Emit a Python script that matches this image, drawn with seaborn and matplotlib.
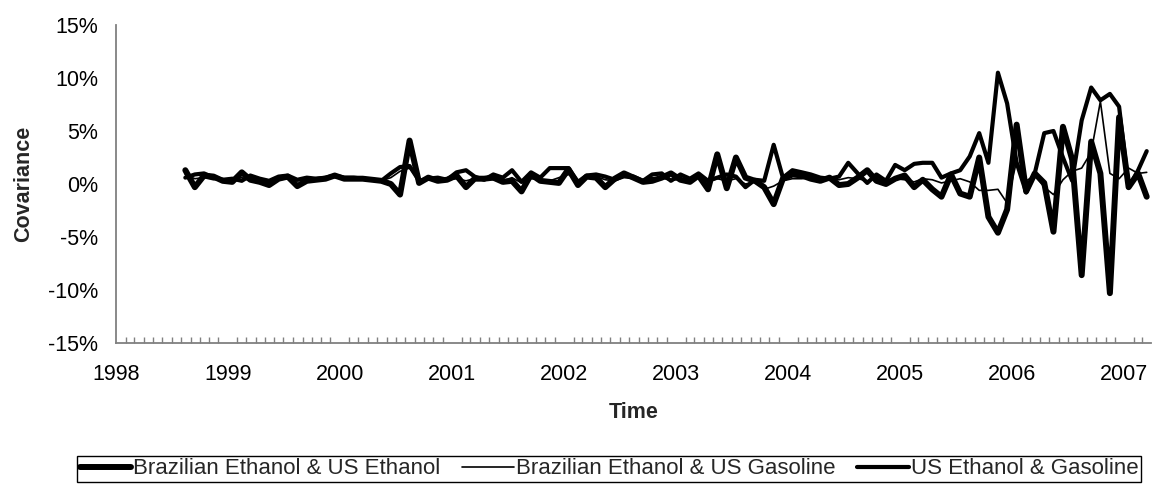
import pandas as pd
import matplotlib
matplotlib.use("Agg")
import matplotlib.pyplot as plt
import matplotlib.dates as mdates
from matplotlib.ticker import PercentFormatter, MultipleLocator
import seaborn as sns

# monthly observations, Aug 1998 - Mar 2007 (values in %)
months = pd.date_range("1998-08-01", "2007-03-01", freq="MS") + pd.Timedelta(days=14)

# Brazilian Ethanol & US Ethanol (thick line)
a_1998 = [1.3, -0.3, 0.8, 0.7, 0.3]
a_1999 = [0.2, 1.1, 0.4, 0.2, -0.1, 0.5, 0.7, -0.2, 0.3, 0.4, 0.5, 0.8]
a_2000 = [0.5, 0.5, 0.5, 0.4, 0.3, 0.0, -1.0, 4.1, 0.1, 0.6, 0.3, 0.4]
a_2001 = [0.8, -0.3, 0.5, 0.5, 0.6, 0.2, 0.3, -0.7, 0.9, 0.3, 0.2, 0.1]
a_2002 = [1.4, -0.1, 0.7, 0.6, -0.3, 0.5, 1.0, 0.6, 0.2, 0.3, 0.6, 1.0]
a_2003 = [0.4, 0.2, 0.8, -0.5, 2.8, -0.4, 2.5, 0.6, 0.3, -0.3, -1.9, 0.5]
a_2004 = [0.9, 0.8, 0.5, 0.3, 0.6, -0.1, 0.0, 0.6, 1.3, 0.3, 0.0, 0.5]
a_2005 = [0.8, -0.3, 0.4, -0.5, -1.2, 0.9, -0.9, -1.2, 2.5, -3.1, -4.6, -2.4]
a_2006 = [5.6, -0.7, 1.0, 0.1, -4.5, 5.4, 2.3, -8.6, 4.0, 1.0, -10.3, 6.3]
a_2007 = [-0.3, 1.0, -1.2]

# Brazilian Ethanol & US Gasoline (thin line)
b_1998 = [0.9, 0.5, 0.6, 0.4, 0.5]
b_1999 = [0.4, 0.6, 0.3, 0.3, 0.2, 0.4, 0.5, 0.3, 0.4, 0.5, 0.6, 0.6]
b_2000 = [0.5, 0.5, 0.4, 0.4, 0.3, 0.6, 1.2, 1.5, 0.3, 0.4, 0.5, 0.4]
b_2001 = [0.5, 0.3, 0.5, 0.6, 0.4, 0.3, 0.6, 0.1, 0.5, 0.4, 0.3, 0.6]
b_2002 = [0.9, 0.3, 0.6, 0.7, 0.4, 0.3, 0.6, 0.5, 0.4, 0.6, 0.6, 0.3]
b_2003 = [0.5, 0.4, 0.6, 0.2, 0.5, 0.3, 0.5, 0.0, 0.2, -0.5, -0.2, 0.3]
b_2004 = [0.5, 0.5, 0.6, 0.5, 0.4, 0.4, 0.6, 0.5, 0.3, 0.6, 0.4, 0.5]
b_2005 = [0.4, 0.2, 0.5, 0.4, 0.1, 0.3, 0.5, 0.2, -0.6, -0.6, -0.5, -1.8]
b_2006 = [2.2, 0.3, 0.8, -0.3, -1.0, 0.4, 1.2, 1.5, 3.0, 7.8, 1.0, 0.5]
b_2007 = [1.5, 1.0, 1.1]

# US Ethanol & Gasoline (medium line)
c_1998 = [0.6, 0.9, 1.0, 0.6, 0.4]
c_1999 = [0.5, 0.3, 0.8, 0.5, 0.3, 0.7, 0.8, 0.4, 0.6, 0.5, 0.6, 0.8]
c_2000 = [0.6, 0.6, 0.5, 0.4, 0.3, 1.0, 1.6, 1.7, 0.3, 0.5, 0.6, 0.4]
c_2001 = [1.1, 1.3, 0.7, 0.4, 0.9, 0.6, 1.3, 0.2, 1.1, 0.6, 1.5, 1.5]
c_2002 = [1.5, 0.2, 0.8, 0.9, 0.7, 0.4, 0.8, 0.7, 0.3, 0.9, 1.0, 0.3]
c_2003 = [0.9, 0.5, 1.0, 0.3, 0.6, 0.9, 0.7, -0.3, 0.4, 0.3, 3.7, 0.6]
c_2004 = [1.3, 1.1, 0.9, 0.6, 0.5, 0.7, 2.0, 1.0, 0.1, 0.9, 0.3, 1.8]
c_2005 = [1.3, 1.9, 2.0, 2.0, 0.6, 1.0, 1.3, 2.6, 4.8, 2.0, 10.5, 7.6]
c_2006 = [2.0, -0.8, 1.0, 4.8, 5.0, 2.5, 0.3, 6.0, 9.1, 7.9, 8.5, 7.3]
c_2007 = [-0.3, 1.3, 3.1]

braz_us_eth = a_1998 + a_1999 + a_2000 + a_2001 + a_2002 + a_2003 + a_2004 + a_2005 + a_2006 + a_2007
braz_us_gas = b_1998 + b_1999 + b_2000 + b_2001 + b_2002 + b_2003 + b_2004 + b_2005 + b_2006 + b_2007
us_eth_gas = c_1998 + c_1999 + c_2000 + c_2001 + c_2002 + c_2003 + c_2004 + c_2005 + c_2006 + c_2007

labels = ["Brazilian Ethanol & US Ethanol", "Brazilian Ethanol & US Gasoline", "US Ethanol & Gasoline"]
widths = [4.3, 1.2, 3.0]

df = pd.DataFrame({"Time": months, labels[0]: braz_us_eth,
                   labels[1]: braz_us_gas, labels[2]: us_eth_gas})

sns.set_style("white")
plt.rcParams["font.family"] = ["Liberation Sans", "DejaVu Sans"]
plt.rcParams["axes.unicode_minus"] = False

fig = plt.figure(figsize=(11.54, 4.84), dpi=100)
ax = fig.add_axes([116 / 1154, 1 - 343 / 484, (1151 - 116) / 1154, (343 - 25) / 484])

for lab, lw in zip(labels, widths):
    sns.lineplot(data=df, x="Time", y=lab, ax=ax, color="black", linewidth=lw,
                 label=lab, solid_joinstyle="round", solid_capstyle="round")

ax.set_xlim(pd.Timestamp("1998-01-01"), pd.Timestamp("2007-03-29"))
ax.set_ylim(-15, 15)
ax.yaxis.set_major_locator(MultipleLocator(5))
ax.yaxis.set_major_formatter(PercentFormatter(xmax=100, decimals=0))
ax.xaxis.set_major_locator(mdates.YearLocator())
ax.xaxis.set_minor_locator(mdates.MonthLocator())
ax.xaxis.set_major_formatter(mdates.DateFormatter("%Y"))

for side in ["top", "right"]:
    ax.spines[side].set_visible(False)
for side in ["left", "bottom"]:
    ax.spines[side].set_color("#808080")
    ax.spines[side].set_linewidth(1.3)

ax.tick_params(axis="both", which="major", direction="out", length=5, width=1.2,
               color="#808080", labelsize=15.5, labelcolor="black", pad=8)
ax.tick_params(axis="x", which="major", pad=10)
ax.tick_params(axis="x", which="minor", direction="in", length=4, width=1.0,
               color="#808080", bottom=True)

ax.set_xlabel("Time", fontsize=15.5, fontweight="bold")
ax.set_ylabel("Covariance", fontsize=15.5, fontweight="bold")
ax.xaxis.set_label_coords(0.5, -0.185)
ax.yaxis.set_label_coords(-0.079, 0.5)

ax.legend(loc="center", bbox_to_anchor=(609 / 1154, 1 - 469 / 484),
          bbox_transform=fig.transFigure, ncol=3, fontsize=16, frameon=True,
          fancybox=False, edgecolor="black", framealpha=1, borderpad=0.12,
          handlelength=2.3, handletextpad=0.1, columnspacing=1.0, borderaxespad=0)
ax.get_legend().get_frame().set_linewidth(1.0)

fig.savefig("out.png", dpi=100)
